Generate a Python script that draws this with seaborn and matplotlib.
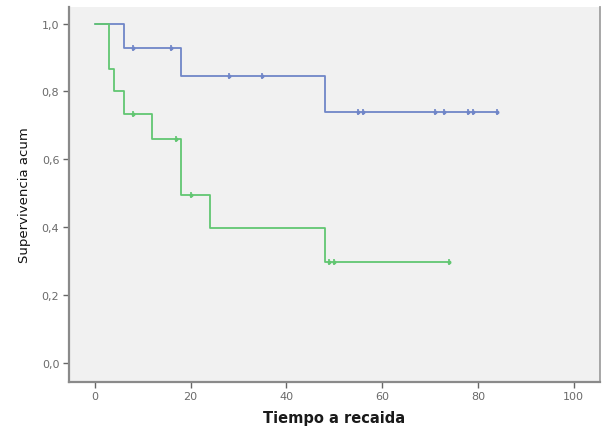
import numpy as np
import pandas as pd
import matplotlib
matplotlib.use("Agg")
import matplotlib.pyplot as plt
import seaborn as sns

# tiempos (meses) y evento (1 = recaida, 0 = censurado) por grupo
blue_times  = [6, 8, 16, 18, 28, 35, 48, 55, 56, 71, 73, 78, 79, 84]
blue_events = [1, 0, 0, 1, 0, 0, 1, 0, 0, 0, 0, 0, 0, 0]
green_times  = [3, 3, 4, 6, 8, 12, 17, 18, 18, 20, 24, 48, 49, 50, 74]
green_events = [1, 1, 1, 1, 0, 1, 0, 1, 1, 0, 1, 1, 0, 0, 0]

x_ticks = [0, 20, 40, 60, 80, 100]
y_ticks = [0.0, 0.2, 0.4, 0.6, 0.8, 1.0]

colors = {"A": "#7086c8", "B": "#62c672"}


def km_curve(times, events):
    t = np.array(times, dtype=float)
    e = np.array(events)
    s = 1.0
    xs, ys = [0.0], [1.0]
    cens_x, cens_y = [], []
    for u in np.unique(t):
        at_risk = np.sum(t >= u)
        d = np.sum((t == u) & (e == 1))
        c = np.sum((t == u) & (e == 0))
        if d > 0:
            s = s * (1 - d / at_risk)
            xs.append(u)
            ys.append(s)
        if c > 0:
            cens_x.append(u)
            cens_y.append(s)
    # extend to last observed time
    if xs[-1] < t.max():
        xs.append(t.max())
        ys.append(s)
    return xs, ys, cens_x, cens_y


rows, cens_rows = [], []
for g, (tt, ee) in {"A": (blue_times, blue_events), "B": (green_times, green_events)}.items():
    xs, ys, cx, cy = km_curve(tt, ee)
    rows += [{"grupo": g, "t": a, "s": b} for a, b in zip(xs, ys)]
    cens_rows += [{"grupo": g, "t": a, "s": b} for a, b in zip(cx, cy)]
curve_df = pd.DataFrame(rows)
cens_df = pd.DataFrame(cens_rows)

sns.set_style("white")
fig = plt.figure(figsize=(6.04, 4.27), dpi=100)
ax = fig.add_axes([69 / 604, 1 - 382.5 / 427, (600 - 69) / 604, (382.5 - 8) / 427])
ax.set_facecolor("#f1f1f1")

for g in ["A", "B"]:
    sub = curve_df[curve_df["grupo"] == g]
    sns.lineplot(data=sub, x="t", y="s", ax=ax, color=colors[g], lw=1.3,
                 drawstyle="steps-post", estimator=None, sort=False)
    csub = cens_df[cens_df["grupo"] == g]
    sns.scatterplot(data=csub, x="t", y="s", ax=ax, color=colors[g], marker="|",
                    s=16, linewidth=1.2)
    sns.scatterplot(data=csub, x="t", y="s", ax=ax, color=colors[g], marker="o",
                    s=8, linewidth=0)

ax.set_xlim(-5.4, 105.5)
ax.set_ylim(-0.056, 1.049)
ax.set_xticks(x_ticks)
ax.set_yticks(y_ticks)
ax.set_xticklabels([str(v) for v in x_ticks])
ax.set_yticklabels([f"{v:.1f}".replace(".", ",") for v in y_ticks])
ax.tick_params(axis="both", direction="out", length=4, width=1, color="#666666",
               labelcolor="#6a6a6a", labelsize=8, pad=3, bottom=True, left=True)

for side in ["left", "bottom"]:
    ax.spines[side].set_color("#8a8a8a")
    ax.spines[side].set_linewidth(1.6)
ax.spines["right"].set_color("#a0a0a0")
ax.spines["right"].set_linewidth(1.3)
ax.spines["top"].set_visible(False)

ax.set_xlabel("Tiempo a recaida", fontsize=10.5, fontweight="bold", color="#1a1a1a", labelpad=6)
ax.set_ylabel("Supervivencia acum", fontsize=9.5, color="#111111", labelpad=8)

fig.savefig("out.png", dpi=100, facecolor="white")
